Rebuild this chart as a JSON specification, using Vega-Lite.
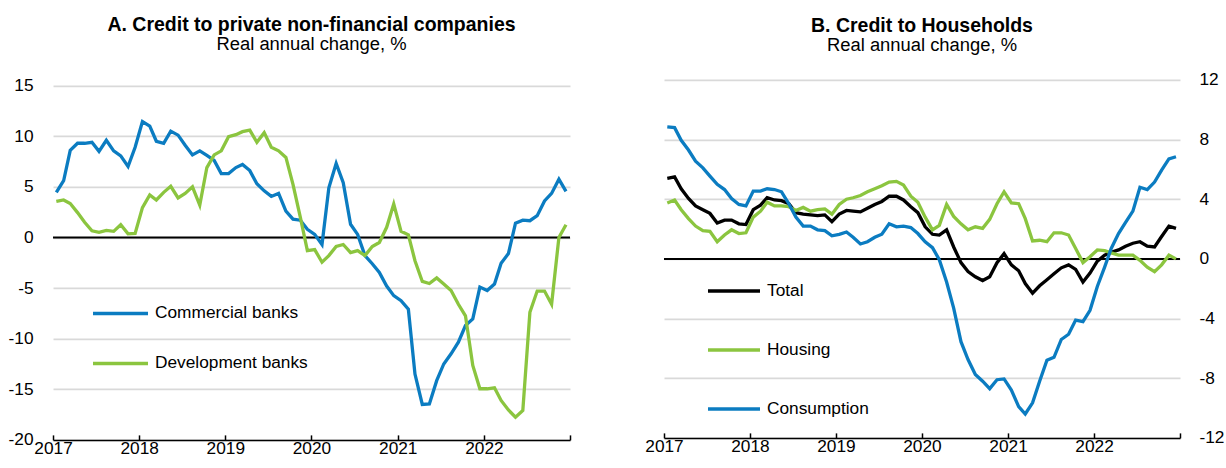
{
  "$schema": "https://vega.github.io/schema/vega-lite/v6.json",
  "padding": {"left": 8, "top": 14.9, "right": 0, "bottom": 0},
  "background": "white",
  "config": {
    "font": "Liberation Sans",
    "view": {"stroke": null},
    "axis": {"labelColor": "#000", "labelFontSize": 17.3, "titleColor": "#000"},
    "title": {"fontSize": 19.5, "fontWeight": "bold", "color": "#000", "subtitleFontSize": 18.4, "subtitleColor": "#000", "anchor": "middle", "frame": "group"}
  },
  "datasets": {
    "a": [
      {"date": "2017-01-15", "Commercial banks": 4.44, "Development banks": 3.55},
      {"date": "2017-02-15", "Commercial banks": 5.6, "Development banks": 3.7},
      {"date": "2017-03-15", "Commercial banks": 8.6, "Development banks": 3.35},
      {"date": "2017-04-15", "Commercial banks": 9.3, "Development banks": 2.45},
      {"date": "2017-05-15", "Commercial banks": 9.3, "Development banks": 1.5},
      {"date": "2017-06-15", "Commercial banks": 9.4, "Development banks": 0.65},
      {"date": "2017-07-15", "Commercial banks": 8.5, "Development banks": 0.5},
      {"date": "2017-08-15", "Commercial banks": 9.6, "Development banks": 0.7},
      {"date": "2017-09-15", "Commercial banks": 8.55, "Development banks": 0.6},
      {"date": "2017-10-15", "Commercial banks": 8.05, "Development banks": 1.25},
      {"date": "2017-11-15", "Commercial banks": 7.0, "Development banks": 0.35},
      {"date": "2017-12-15", "Commercial banks": 8.9, "Development banks": 0.4},
      {"date": "2018-01-15", "Commercial banks": 11.45, "Development banks": 2.95},
      {"date": "2018-02-15", "Commercial banks": 11.0, "Development banks": 4.2},
      {"date": "2018-03-15", "Commercial banks": 9.5, "Development banks": 3.7},
      {"date": "2018-04-15", "Commercial banks": 9.3, "Development banks": 4.45},
      {"date": "2018-05-15", "Commercial banks": 10.5, "Development banks": 5.05},
      {"date": "2018-06-15", "Commercial banks": 10.1, "Development banks": 3.9},
      {"date": "2018-07-15", "Commercial banks": 9.1, "Development banks": 4.35},
      {"date": "2018-08-15", "Commercial banks": 8.15, "Development banks": 5.0},
      {"date": "2018-09-15", "Commercial banks": 8.55, "Development banks": 3.2},
      {"date": "2018-10-15", "Commercial banks": 8.1, "Development banks": 6.9},
      {"date": "2018-11-15", "Commercial banks": 7.6, "Development banks": 8.15},
      {"date": "2018-12-15", "Commercial banks": 6.3, "Development banks": 8.55},
      {"date": "2019-01-15", "Commercial banks": 6.3, "Development banks": 9.95},
      {"date": "2019-02-15", "Commercial banks": 6.9, "Development banks": 10.15},
      {"date": "2019-03-15", "Commercial banks": 7.2, "Development banks": 10.45},
      {"date": "2019-04-15", "Commercial banks": 6.6, "Development banks": 10.6},
      {"date": "2019-05-15", "Commercial banks": 5.3, "Development banks": 9.4},
      {"date": "2019-06-15", "Commercial banks": 4.6, "Development banks": 10.35},
      {"date": "2019-07-15", "Commercial banks": 4.05, "Development banks": 8.9},
      {"date": "2019-08-15", "Commercial banks": 4.35, "Development banks": 8.55},
      {"date": "2019-09-15", "Commercial banks": 2.6, "Development banks": 7.9},
      {"date": "2019-10-15", "Commercial banks": 1.8, "Development banks": 5.25},
      {"date": "2019-11-15", "Commercial banks": 1.7, "Development banks": 2.0},
      {"date": "2019-12-15", "Commercial banks": 0.8, "Development banks": -1.3},
      {"date": "2020-01-15", "Commercial banks": 0.3, "Development banks": -1.2},
      {"date": "2020-02-15", "Commercial banks": -0.7, "Development banks": -2.45},
      {"date": "2020-03-15", "Commercial banks": 4.9, "Development banks": -1.8},
      {"date": "2020-04-15", "Commercial banks": 7.3, "Development banks": -0.9},
      {"date": "2020-05-15", "Commercial banks": 5.4, "Development banks": -0.7},
      {"date": "2020-06-15", "Commercial banks": 1.3, "Development banks": -1.5},
      {"date": "2020-07-15", "Commercial banks": 0.3, "Development banks": -1.3},
      {"date": "2020-08-15", "Commercial banks": -1.8, "Development banks": -1.8},
      {"date": "2020-09-15", "Commercial banks": -2.6, "Development banks": -0.9},
      {"date": "2020-10-15", "Commercial banks": -3.45, "Development banks": -0.5},
      {"date": "2020-11-15", "Commercial banks": -4.8, "Development banks": 1.0},
      {"date": "2020-12-15", "Commercial banks": -5.75, "Development banks": 3.3},
      {"date": "2021-01-15", "Commercial banks": -6.25, "Development banks": 0.6},
      {"date": "2021-02-15", "Commercial banks": -7.1, "Development banks": 0.25},
      {"date": "2021-03-15", "Commercial banks": -13.5, "Development banks": -2.3},
      {"date": "2021-04-15", "Commercial banks": -16.5, "Development banks": -4.35},
      {"date": "2021-05-15", "Commercial banks": -16.45, "Development banks": -4.55},
      {"date": "2021-06-15", "Commercial banks": -14.15, "Development banks": -4.0},
      {"date": "2021-07-15", "Commercial banks": -12.5, "Development banks": -4.6},
      {"date": "2021-08-15", "Commercial banks": -11.5, "Development banks": -5.25},
      {"date": "2021-09-15", "Commercial banks": -10.35, "Development banks": -6.6},
      {"date": "2021-10-15", "Commercial banks": -8.7, "Development banks": -7.75},
      {"date": "2021-11-15", "Commercial banks": -8.05, "Development banks": -12.65},
      {"date": "2021-12-15", "Commercial banks": -4.9, "Development banks": -14.95},
      {"date": "2022-01-15", "Commercial banks": -5.25, "Development banks": -14.95},
      {"date": "2022-02-15", "Commercial banks": -4.6, "Development banks": -14.85},
      {"date": "2022-03-15", "Commercial banks": -2.55, "Development banks": -16.1},
      {"date": "2022-04-15", "Commercial banks": -1.6, "Development banks": -17.05},
      {"date": "2022-05-15", "Commercial banks": 1.4, "Development banks": -17.75},
      {"date": "2022-06-15", "Commercial banks": 1.7, "Development banks": -17.1},
      {"date": "2022-07-15", "Commercial banks": 1.65, "Development banks": -7.4},
      {"date": "2022-08-15", "Commercial banks": 2.15, "Development banks": -5.3},
      {"date": "2022-09-15", "Commercial banks": 3.6, "Development banks": -5.3},
      {"date": "2022-10-15", "Commercial banks": 4.35, "Development banks": -6.6},
      {"date": "2022-11-15", "Commercial banks": 5.75, "Development banks": 0.0},
      {"date": "2022-12-15", "Commercial banks": 4.55, "Development banks": 1.25}
    ],
    "b": [
      {"date": "2017-01-15", "Total": 5.4, "Housing": 3.75, "Consumption": 8.85},
      {"date": "2017-02-15", "Total": 5.5, "Housing": 3.95, "Consumption": 8.8},
      {"date": "2017-03-15", "Total": 4.7, "Housing": 3.3, "Consumption": 7.95},
      {"date": "2017-04-15", "Total": 4.05, "Housing": 2.7, "Consumption": 7.3},
      {"date": "2017-05-15", "Total": 3.55, "Housing": 2.2, "Consumption": 6.55},
      {"date": "2017-06-15", "Total": 3.3, "Housing": 1.9, "Consumption": 6.1},
      {"date": "2017-07-15", "Total": 3.05, "Housing": 1.85, "Consumption": 5.55},
      {"date": "2017-08-15", "Total": 2.4, "Housing": 1.15, "Consumption": 5.0},
      {"date": "2017-09-15", "Total": 2.6, "Housing": 1.6, "Consumption": 4.65},
      {"date": "2017-10-15", "Total": 2.6, "Housing": 1.95, "Consumption": 4.05},
      {"date": "2017-11-15", "Total": 2.35, "Housing": 1.7, "Consumption": 3.65},
      {"date": "2017-12-15", "Total": 2.3, "Housing": 1.75, "Consumption": 3.55},
      {"date": "2018-01-15", "Total": 3.3, "Housing": 2.8, "Consumption": 4.55},
      {"date": "2018-02-15", "Total": 3.6, "Housing": 3.2, "Consumption": 4.55},
      {"date": "2018-03-15", "Total": 4.1, "Housing": 3.8, "Consumption": 4.7},
      {"date": "2018-04-15", "Total": 3.95, "Housing": 3.55, "Consumption": 4.65},
      {"date": "2018-05-15", "Total": 3.9, "Housing": 3.55, "Consumption": 4.5},
      {"date": "2018-06-15", "Total": 3.7, "Housing": 3.5, "Consumption": 3.7},
      {"date": "2018-07-15", "Total": 3.1, "Housing": 3.25, "Consumption": 2.8},
      {"date": "2018-08-15", "Total": 3.0, "Housing": 3.45, "Consumption": 2.2},
      {"date": "2018-09-15", "Total": 2.95, "Housing": 3.2, "Consumption": 2.2},
      {"date": "2018-10-15", "Total": 2.9, "Housing": 3.3, "Consumption": 1.95},
      {"date": "2018-11-15", "Total": 2.95, "Housing": 3.35, "Consumption": 1.9},
      {"date": "2018-12-15", "Total": 2.5, "Housing": 3.0, "Consumption": 1.55},
      {"date": "2019-01-15", "Total": 3.0, "Housing": 3.65, "Consumption": 1.65},
      {"date": "2019-02-15", "Total": 3.25, "Housing": 4.0, "Consumption": 1.8},
      {"date": "2019-03-15", "Total": 3.2, "Housing": 4.1, "Consumption": 1.45},
      {"date": "2019-04-15", "Total": 3.15, "Housing": 4.25, "Consumption": 1.0},
      {"date": "2019-05-15", "Total": 3.4, "Housing": 4.5, "Consumption": 1.15},
      {"date": "2019-06-15", "Total": 3.65, "Housing": 4.7, "Consumption": 1.45},
      {"date": "2019-07-15", "Total": 3.85, "Housing": 4.9, "Consumption": 1.65},
      {"date": "2019-08-15", "Total": 4.2, "Housing": 5.15, "Consumption": 2.35},
      {"date": "2019-09-15", "Total": 4.2, "Housing": 5.2, "Consumption": 2.15},
      {"date": "2019-10-15", "Total": 3.95, "Housing": 4.95, "Consumption": 2.2},
      {"date": "2019-11-15", "Total": 3.5, "Housing": 4.2, "Consumption": 2.1},
      {"date": "2019-12-15", "Total": 3.1, "Housing": 3.8, "Consumption": 1.7},
      {"date": "2020-01-15", "Total": 2.15, "Housing": 2.8, "Consumption": 1.15},
      {"date": "2020-02-15", "Total": 1.65, "Housing": 1.95, "Consumption": 0.75},
      {"date": "2020-03-15", "Total": 1.6, "Housing": 2.25, "Consumption": -0.05},
      {"date": "2020-04-15", "Total": 1.95, "Housing": 3.65, "Consumption": -1.55},
      {"date": "2020-05-15", "Total": 0.8, "Housing": 2.85, "Consumption": -3.3},
      {"date": "2020-06-15", "Total": -0.25, "Housing": 2.35, "Consumption": -5.55},
      {"date": "2020-07-15", "Total": -0.85, "Housing": 1.95, "Consumption": -6.75},
      {"date": "2020-08-15", "Total": -1.2, "Housing": 2.15, "Consumption": -7.75},
      {"date": "2020-09-15", "Total": -1.45, "Housing": 2.05, "Consumption": -8.2},
      {"date": "2020-10-15", "Total": -1.2, "Housing": 2.65, "Consumption": -8.7},
      {"date": "2020-11-15", "Total": -0.25, "Housing": 3.7, "Consumption": -8.1},
      {"date": "2020-12-15", "Total": 0.35, "Housing": 4.5, "Consumption": -8.05},
      {"date": "2021-01-15", "Total": -0.4, "Housing": 3.75, "Consumption": -8.8},
      {"date": "2021-02-15", "Total": -0.8, "Housing": 3.7, "Consumption": -9.9},
      {"date": "2021-03-15", "Total": -1.65, "Housing": 2.7, "Consumption": -10.4},
      {"date": "2021-04-15", "Total": -2.3, "Housing": 1.2, "Consumption": -9.65},
      {"date": "2021-05-15", "Total": -1.8, "Housing": 1.25, "Consumption": -8.2},
      {"date": "2021-06-15", "Total": -1.4, "Housing": 1.15, "Consumption": -6.8},
      {"date": "2021-07-15", "Total": -1.0, "Housing": 1.75, "Consumption": -6.6},
      {"date": "2021-08-15", "Total": -0.6, "Housing": 1.75, "Consumption": -5.4},
      {"date": "2021-09-15", "Total": -0.4, "Housing": 1.6, "Consumption": -5.05},
      {"date": "2021-10-15", "Total": -0.7, "Housing": 0.7, "Consumption": -4.1},
      {"date": "2021-11-15", "Total": -1.55, "Housing": -0.25, "Consumption": -4.2},
      {"date": "2021-12-15", "Total": -0.95, "Housing": 0.15, "Consumption": -3.45},
      {"date": "2022-01-15", "Total": -0.15, "Housing": 0.6, "Consumption": -1.85},
      {"date": "2022-02-15", "Total": 0.25, "Housing": 0.55, "Consumption": -0.55},
      {"date": "2022-03-15", "Total": 0.45, "Housing": 0.4, "Consumption": 0.7},
      {"date": "2022-04-15", "Total": 0.6, "Housing": 0.25, "Consumption": 1.7},
      {"date": "2022-05-15", "Total": 0.85, "Housing": 0.25, "Consumption": 2.45},
      {"date": "2022-06-15", "Total": 1.05, "Housing": 0.25, "Consumption": 3.2},
      {"date": "2022-07-15", "Total": 1.15, "Housing": -0.1, "Consumption": 4.8},
      {"date": "2022-08-15", "Total": 0.85, "Housing": -0.55, "Consumption": 4.65},
      {"date": "2022-09-15", "Total": 0.8, "Housing": -0.85, "Consumption": 5.15},
      {"date": "2022-10-15", "Total": 1.5, "Housing": -0.4, "Consumption": 5.95},
      {"date": "2022-11-15", "Total": 2.2, "Housing": 0.25, "Consumption": 6.7},
      {"date": "2022-12-15", "Total": 2.05, "Housing": 0.0, "Consumption": 6.85}
    ]
  },
  "bounds": "flush",
  "spacing": 94,
  "resolve": {"scale": {"x": "independent", "y": "independent", "color": "independent"}},
  "hconcat": [
    {
      "width": 517,
      "height": 360,
      "title": {"text": "A. Credit to private non-financial companies", "subtitle": "Real annual change, %", "offset": 22, "subtitlePadding": -0.5},
      "layer": [
        {
          "data": {"values": [{}]},
          "mark": {"type": "rule", "color": "#000", "strokeWidth": 2},
          "encoding": {"y": {"datum": 0, "type": "quantitative"}}
        },
        {
          "data": {"name": "a"},
          "transform": [{"fold": ["Commercial banks", "Development banks"], "as": ["series", "value"]}],
          "mark": {"type": "line", "strokeWidth": 3.3},
          "encoding": {
            "x": {
              "field": "date", "type": "temporal", "title": null,
              "scale": {"type": "utc", "domain": [{"year": 2017, "month": 1, "date": 1, "utc": true}, {"year": 2023, "month": 1, "date": 1, "utc": true}]},
              "axis": {
                "values": [
                  {"year": 2017, "month": 1, "date": 1, "utc": true},
                  {"year": 2018, "month": 1, "date": 1, "utc": true},
                  {"year": 2019, "month": 1, "date": 1, "utc": true},
                  {"year": 2020, "month": 1, "date": 1, "utc": true},
                  {"year": 2021, "month": 1, "date": 1, "utc": true},
                  {"year": 2022, "month": 1, "date": 1, "utc": true},
                  {"year": 2023, "month": 1, "date": 1, "utc": true}
                ],
                "labelExpr": "utcyear(datum.value) == 2023 ? '' : utcFormat(datum.value, '%Y')",
                "grid": false, "domainColor": "#000", "domainWidth": 1.5, "tickColor": "#000", "tickWidth": 1.5, "tickSize": -5,
                "labelPadding": 5, "labelFlush": false, "labelOverlap": false
              }
            },
            "y": {
              "field": "value", "type": "quantitative", "title": null,
              "scale": {"domain": [-20, 15.56], "nice": false, "zero": false},
              "axis": {"values": [-20, -15, -10, -5, 0, 5, 10, 15], "labelExpr": "'' + datum.value", "domain": false, "ticks": false, "grid": true, "gridColor": "#D9D9D9", "gridWidth": 1.8, "labelPadding": 20}
            },
            "color": {
              "field": "series", "type": "nominal",
              "scale": {"domain": ["Commercial banks", "Development banks"], "range": ["#0B7CC1", "#8BC53F"]},
              "legend": {"orient": "none", "legendX": 38, "legendY": 223.5, "direction": "vertical", "title": null, "symbolType": "stroke", "symbolSize": 3025, "symbolStrokeWidth": 3.5, "labelFontSize": 17.3, "labelColor": "#000", "labelOffset": 5, "rowPadding": 30, "clipHeight": 20, "padding": 0, "labelLimit": 300}
            }
          }
        }
      ]
    },
    {
      "width": 516,
      "height": 358,
      "title": {"text": "B. Credit to Households", "subtitle": "Real annual change, %", "offset": 15, "subtitlePadding": -0.5},
      "layer": [
        {
          "data": {"values": [{}]},
          "mark": {"type": "rule", "color": "#000", "strokeWidth": 2},
          "encoding": {"y": {"datum": 0, "type": "quantitative"}}
        },
        {
          "data": {"name": "b"},
          "transform": [{"fold": ["Total", "Housing", "Consumption"], "as": ["series", "value"]}],
          "mark": {"type": "line", "strokeWidth": 3.3},
          "encoding": {
            "x": {
              "field": "date", "type": "temporal", "title": null,
              "scale": {"type": "utc", "domain": [{"year": 2017, "month": 1, "date": 1, "utc": true}, {"year": 2023, "month": 1, "date": 1, "utc": true}]},
              "axis": {
                "values": [
                  {"year": 2017, "month": 1, "date": 1, "utc": true},
                  {"year": 2018, "month": 1, "date": 1, "utc": true},
                  {"year": 2019, "month": 1, "date": 1, "utc": true},
                  {"year": 2020, "month": 1, "date": 1, "utc": true},
                  {"year": 2021, "month": 1, "date": 1, "utc": true},
                  {"year": 2022, "month": 1, "date": 1, "utc": true},
                  {"year": 2023, "month": 1, "date": 1, "utc": true}
                ],
                "labelExpr": "utcyear(datum.value) == 2023 ? '' : utcFormat(datum.value, '%Y')",
                "grid": false, "domainColor": "#000", "domainWidth": 1.5, "tickColor": "#000", "tickWidth": 1.5, "tickSize": -5,
                "labelPadding": 5, "labelFlush": false, "labelOverlap": false
              }
            },
            "y": {
              "field": "value", "type": "quantitative", "title": null,
              "scale": {"domain": [-12, 12], "nice": false, "zero": false},
              "axis": {"orient": "right", "values": [-12, -8, -4, 0, 4, 8, 12], "labelExpr": "'' + datum.value", "domain": false, "ticks": false, "grid": true, "gridColor": "#D9D9D9", "gridWidth": 1.8, "labelPadding": 19}
            },
            "color": {
              "field": "series", "type": "nominal",
              "scale": {"domain": ["Total", "Housing", "Consumption"], "range": ["#000000", "#8BC53F", "#0B7CC1"]},
              "legend": {"orient": "none", "legendX": 42, "legendY": 201, "direction": "vertical", "title": null, "symbolType": "stroke", "symbolSize": 2704, "symbolStrokeWidth": 3.5, "labelFontSize": 17.3, "labelColor": "#000", "labelOffset": 5, "rowPadding": 39, "clipHeight": 20, "padding": 0, "labelLimit": 300}
            }
          }
        }
      ]
    }
  ]
}
